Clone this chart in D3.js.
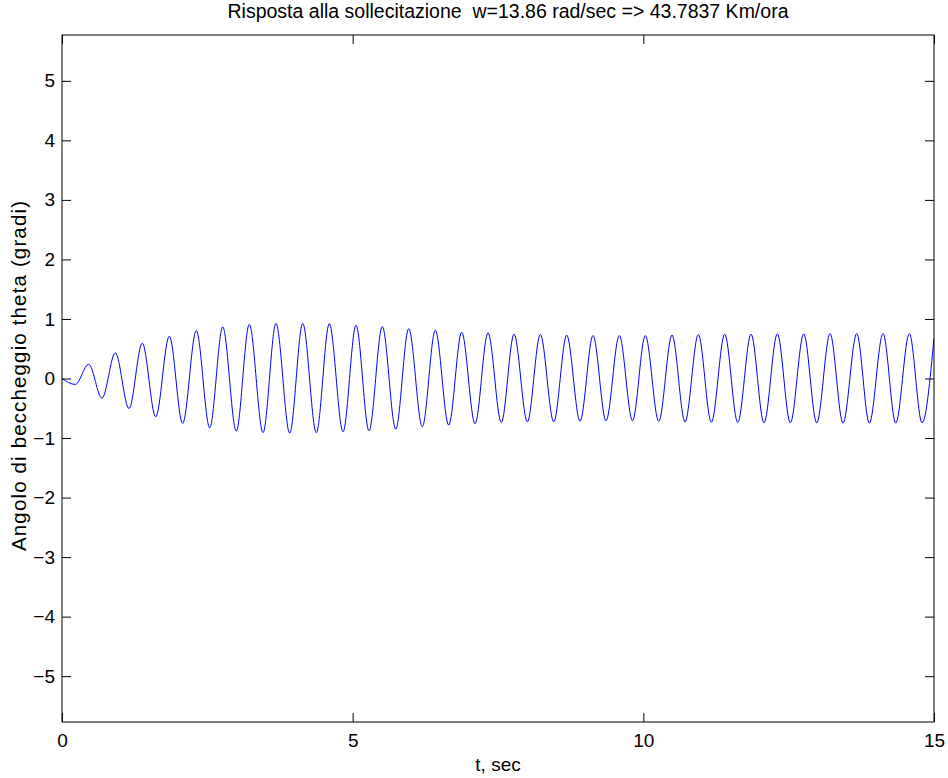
<!DOCTYPE html>
<html>
<head>
<meta charset="utf-8">
<script src="https://cdn.jsdelivr.net/npm/d3@7"></script>
<style>
  body { margin: 0; background: #fff; }
  svg { display: block; font-family: "Liberation Sans", Arial, sans-serif; }
</style>
</head>
<body>
<div class="plot-box"></div>
<script>
// Extrema of the response (time in sec, angle in degrees)
var times = [0, 0.229, 0.459, 0.688, 0.917, 1.153, 1.381, 1.612, 1.846, 2.076,
  2.310, 2.541, 2.765, 2.998, 3.222, 3.458, 3.681, 3.917, 4.141, 4.375,
  4.598, 4.834, 5.058, 5.281, 5.510, 5.741, 5.964, 6.198, 6.422, 6.652,
  6.876, 7.105, 7.328, 7.557, 7.776, 8.005, 8.228, 8.459, 8.682, 8.911,
  9.135, 9.358, 9.587, 9.814, 10.034, 10.265, 10.494, 10.717, 10.946, 11.170,
  11.400, 11.624, 11.853, 12.076, 12.305, 12.529, 12.759, 12.983, 13.212, 13.435,
  13.671, 13.888, 14.123, 14.342, 14.576, 14.794, 15.0]

var theta = [0, -0.10, 0.24, -0.33, 0.43, -0.505, 0.595, -0.645, 0.71, -0.755,
  0.805, -0.828, 0.865, -0.883, 0.91, -0.91, 0.925, -0.917, 0.925, -0.91,
  0.92, -0.895, 0.895, -0.878, 0.872, -0.85, 0.838, -0.81, 0.81, -0.783,
  0.778, -0.76, 0.767, -0.74, 0.745, -0.728, 0.74, -0.728, 0.728, -0.717,
  0.722, -0.712, 0.722, -0.71, 0.722, -0.72, 0.73, -0.73, 0.74, -0.737,
  0.745, -0.74, 0.745, -0.745, 0.75, -0.745, 0.75, -0.745, 0.755, -0.75,
  0.755, -0.75, 0.755, -0.75, 0.755, -0.745, 0.68]

var xTicks = [0, 5, 10, 15]
var yTicks = [-5, -4, -3, -2, -1, 0, 1, 2, 3, 4, 5]

var titleText = 'Risposta alla sollecitazione  w=13.86 rad/sec => 43.7837 Km/ora'
var xLabel = 't, sec'
var yLabel = 'Angolo di beccheggio theta (gradi)'

var width = 948
var height = 778
var margin = { top: 35, right: 14, bottom: 56, left: 62 }
var innerW = width - margin.left - margin.right
var innerH = height - margin.top - margin.bottom
var tickLen = 9
var fontSize = '19px'

var svg = d3.select('div.plot-box')
  .append('svg')
  .attr('width', width)
  .attr('height', height)

var g = svg.append('g')
  .attr('transform', 'translate(' + margin.left + ',' + margin.top + ')')

var x = d3.scaleLinear().domain([0, 15]).range([0, innerW])
var y = d3.scaleLinear().domain([-5.77, 5.77]).range([innerH, 0])

var data = times.map(function (t, i) { return { t: t, v: theta[i] } })

// clip so the curve stays in the box
g.append('clipPath').attr('id', 'clip')
  .append('rect').attr('width', innerW).attr('height', innerH)

var line = d3.line()
  .x(function (d) { return x(d.t) })
  .y(function (d) { return y(d.v) })
  .curve(d3.curveMonotoneX)

g.append('path')
  .datum(data)
  .attr('clip-path', 'url(#clip)')
  .attr('d', line)
  .style('fill', 'none')
  .style('stroke', '#0000ff')
  .style('stroke-width', 1)

// MATLAB style axes: ticks pointing inward, box all around
function styleAxis(sel) {
  sel.select('.domain').remove()
  sel.selectAll('.tick line').style('stroke', '#000')
  sel.selectAll('text').style('font-size', fontSize).style('fill', '#000')
}

g.append('g')
  .attr('transform', 'translate(0,' + innerH + ')')
  .call(d3.axisBottom(x).tickValues(xTicks).tickSizeInner(-tickLen).tickSizeOuter(0).tickPadding(12))
  .call(styleAxis)

g.append('g')
  .call(d3.axisTop(x).tickValues(xTicks).tickSizeInner(-tickLen).tickSizeOuter(0).tickFormat(''))
  .call(styleAxis)

g.append('g')
  .call(d3.axisLeft(y).tickValues(yTicks).tickSizeInner(-tickLen).tickSizeOuter(0).tickPadding(7))
  .call(styleAxis)

g.append('g')
  .attr('transform', 'translate(' + innerW + ',0)')
  .call(d3.axisRight(y).tickValues(yTicks).tickSizeInner(-tickLen).tickSizeOuter(0).tickFormat(''))
  .call(styleAxis)

g.append('rect')
  .attr('width', innerW)
  .attr('height', innerH)
  .style('fill', 'none')
  .style('stroke', '#000')
  .style('stroke-width', 1)

// labels
svg.append('text')
  .attr('x', 508)
  .attr('y', 18)
  .attr('text-anchor', 'middle')
  .style('font-size', '19.5px')
  .style('white-space', 'pre')
  .text(titleText)

svg.append('text')
  .attr('x', margin.left + innerW / 2)
  .attr('y', 771)
  .attr('text-anchor', 'middle')
  .style('font-size', fontSize)
  .text(xLabel)

svg.append('text')
  .attr('transform', 'translate(26,376) rotate(-90)')
  .attr('text-anchor', 'middle')
  .attr('textLength', 350)
  .attr('lengthAdjust', 'spacing')
  .style('font-size', '20.5px')
  .text(yLabel)
</script>
</body>
</html>
